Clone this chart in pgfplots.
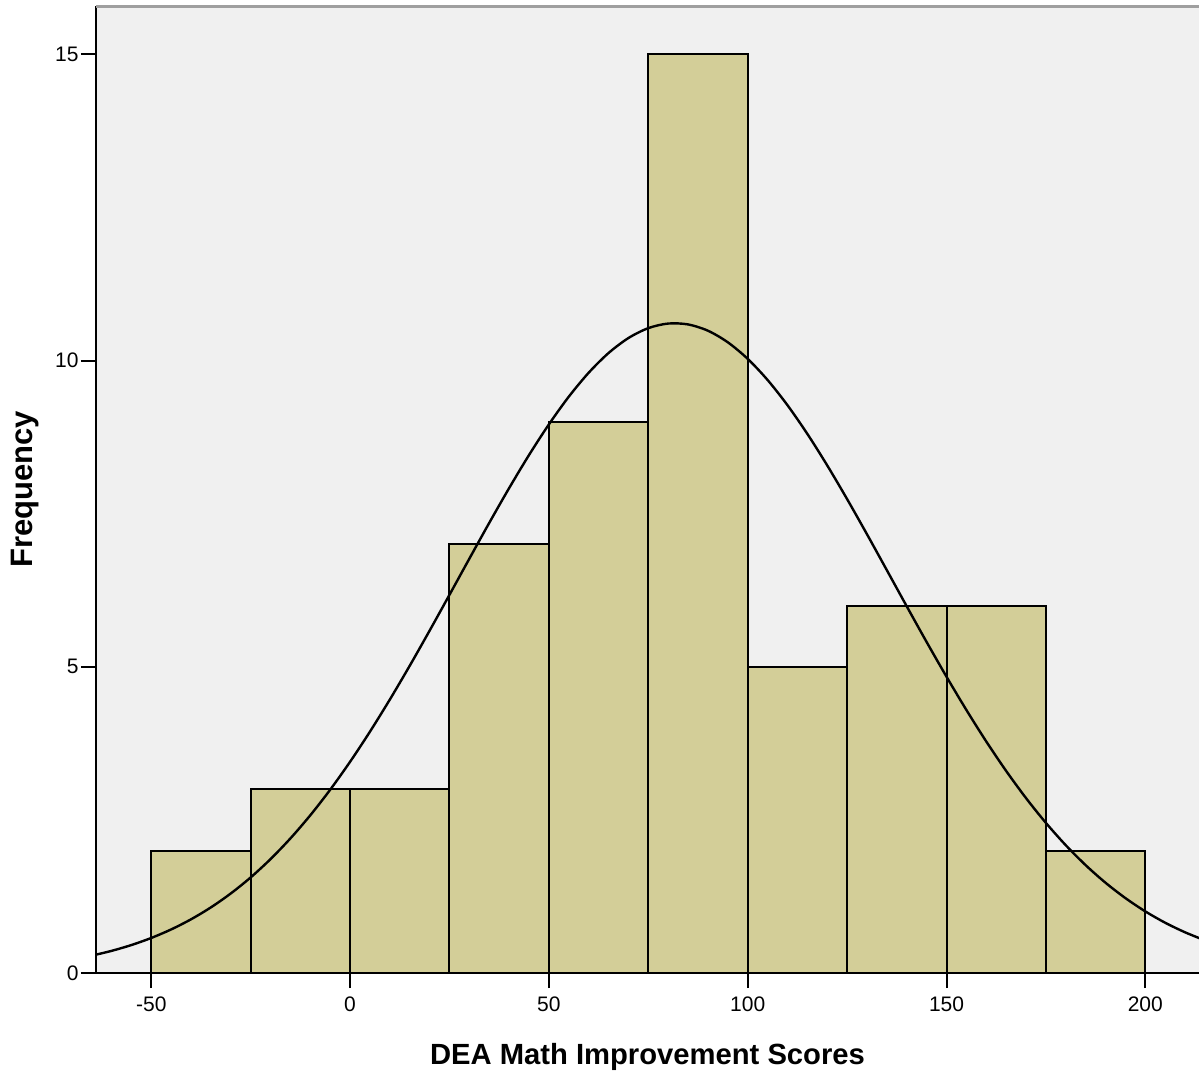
\documentclass[border=0pt]{standalone}
\usepackage{fontspec}
\setmainfont{Liberation Sans}
\usepackage{pgfplots}
\pgfplotsset{compat=1.18}

\definecolor{barfill}{RGB}{211,206,152}
\definecolor{plotbg}{RGB}{240,240,240}

\begin{document}
\begin{tikzpicture}
	\begin{axis}[
			scale only axis,
			width=551.5pt, height=483.5pt,
			xmin=-63.9, xmax=213.5,
			ymin=0, ymax=15.79,
			axis background/.style={fill=plotbg},
			axis x line*=bottom,
			axis y line*=left,
			axis line style={-, line width=1pt, black},
			xtick={-50,0,50,100,150,200},
			ytick={0,5,10,15},
			tick align=outside,
			major tick length=7.5pt,
			tick style={line width=1pt, black},
			/pgf/number format/assume math mode=true,
			ticklabel style={font=\fontsize{10.5}{12}\selectfont, inner sep=1pt},
			xticklabel style={yshift=-3pt},
			xlabel={DEA Math Improvement Scores},
			ylabel={Frequency},
			label style={font=\fontsize{14.6}{17}\bfseries},
			xlabel style={at={(axis description cs:0.5,-0.0869)}, anchor=center},
			ylabel style={at={(axis description cs:-0.0644,0.5)}, anchor=center, font=\fontsize{15.5}{18}\bfseries},
		]
		% histogram bins of width 25
		\addplot[ybar interval, fill=barfill, draw=black, line width=1pt]
		coordinates {
			(-50,2)(-25,3)(0,3)(25,7)(50,9)(75,15)(100,5)(125,6)(150,6)(175,2)(200,2)
		};
		% normal curve
		\addplot[black, line width=1.2pt, smooth, no marks]
		coordinates {
			(-65,0.2834)(-60,0.3613)(-55,0.4566)(-50,0.5724)(-45,0.7115)(-40,0.8769)
			(-35,1.0717)(-30,1.2989)(-25,1.5609)(-20,1.8603)(-15,2.1983)(-10,2.5760)
			(-5,2.9933)(0,3.4493)(5,3.9412)(10,4.4656)(15,5.0171)(20,5.5903)
			(25,6.1759)(30,6.7660)(35,7.3502)(40,7.9178)(45,8.4578)(50,8.9586)
			(55,9.4102)(60,9.8014)(65,10.1234)(70,10.3683)(75,10.5301)(80,10.6048)
			(85,10.5906)(90,10.4877)(95,10.2987)(100,10.0285)(105,9.6833)(110,9.2718)
			(115,8.8033)(120,8.2884)(125,7.7382)(130,7.1641)(135,6.5767)(140,5.9871)
			(145,5.4046)(150,4.8382)(155,4.2947)(160,3.7801)(165,3.2993)(170,2.8556)
			(175,2.4509)(180,2.0860)(185,1.7603)(190,1.4732)(195,1.2226)(200,1.0058)
			(205,0.8206)(210,0.6645)(215,0.5331)
		};
		\draw[line width=2pt, gray!75] (rel axis cs:0,1) -- (rel axis cs:1,1);
	\end{axis}
	\pgfresetboundingbox
	\useasboundingbox ([shift={(-48pt,-52.5pt)}]current axis.south west) rectangle ([shift={(0pt,3pt)}]current axis.north east);
\end{tikzpicture}
\end{document}
